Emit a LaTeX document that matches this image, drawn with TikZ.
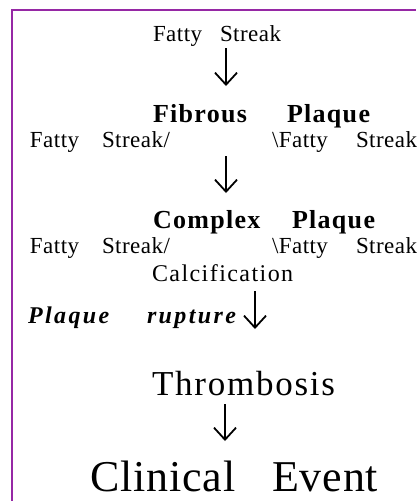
\documentclass[tikz,border=0pt]{standalone}
\usepackage{fontspec}
\setmainfont{Liberation Serif}
\usetikzlibrary{arrows.meta}
\definecolor{frame}{RGB}{150,40,165}
\tikzset{
  txt/.style={anchor=base west, inner sep=0pt, outer sep=0pt},
  reg/.style={txt, font=\fontsize{23pt}{27pt}\selectfont\addfontfeatures{LetterSpace=2}},
  bld/.style={txt, font=\fontsize{26pt}{30pt}\selectfont\bfseries\addfontfeatures{LetterSpace=5}},
  calc/.style={txt, font=\fontsize{24pt}{28pt}\selectfont\addfontfeatures{LetterSpace=6}},
  bit/.style={txt, font=\fontsize{24pt}{28pt}\selectfont\bfseries\itshape\addfontfeatures{LetterSpace=10}},
  thr/.style={txt, font=\fontsize{35pt}{40pt}\selectfont\addfontfeatures{LetterSpace=5}},
  big/.style={txt, font=\fontsize{44pt}{50pt}\selectfont\addfontfeatures{LetterSpace=2}},
  flow/.style={line width=1.8pt, -{Straight Barb[length=12pt,width=22pt]}}
}
\begin{document}
\begin{tikzpicture}[x=1pt,y=-1pt]
\useasboundingbox (0,0) rectangle (416,501);
% frame
\draw[frame, line width=2.5pt] (12,501) -- (12,10) -- (416,10);
% texts
\node[reg] (fs1a) at (153,41) {Fatty};
\node[reg] (fs1b) at (220,41) {Streak};
\node[bld] (fib) at (153,122) {Fibrous};
\node[bld] (fibp) at (287,122) {Plaque};
\node[reg] (l1a) at (30,147) {Fatty};
\node[reg] (l1b) at (102,147) {Streak/};
\node[reg] (r1a) at (272,147) {\textbackslash Fatty};
\node[reg] (r1b) at (356,147) {Streak};
\node[bld] (cpx) at (153,228) {Complex};
\node[bld] (cpxp) at (292,228) {Plaque};
\node[reg] (l2a) at (30,253) {Fatty};
\node[reg] (l2b) at (102,253) {Streak/};
\node[reg] (r2a) at (272,253) {\textbackslash Fatty};
\node[reg] (r2b) at (356,253) {Streak};
\node[calc] (cal) at (152,281) {Calcification};
\node[bit] (pr1) at (28,323) {Plaque};
\node[bit] (pr2) at (147,323) {rupture};
\node[thr] (thr) at (152,395) {Thrombosis};
\node[big] (ce1) at (90,491) {Clinical};
\node[big] (ce2) at (272,491) {Event};
% arrows
\coordinate (a1s) at (226,48);  \coordinate (a1e) at (226,86);
\coordinate (a2s) at (226,156); \coordinate (a2e) at (226,193);
\coordinate (a3s) at (255,291); \coordinate (a3e) at (255,329);
\coordinate (a4s) at (225,404); \coordinate (a4e) at (225,441);
\draw[flow] (a1s) -- (a1e);
\draw[flow] (a2s) -- (a2e);
\draw[flow] (a3s) -- (a3e);
\draw[flow] (a4s) -- (a4e);
\end{tikzpicture}
\end{document}
